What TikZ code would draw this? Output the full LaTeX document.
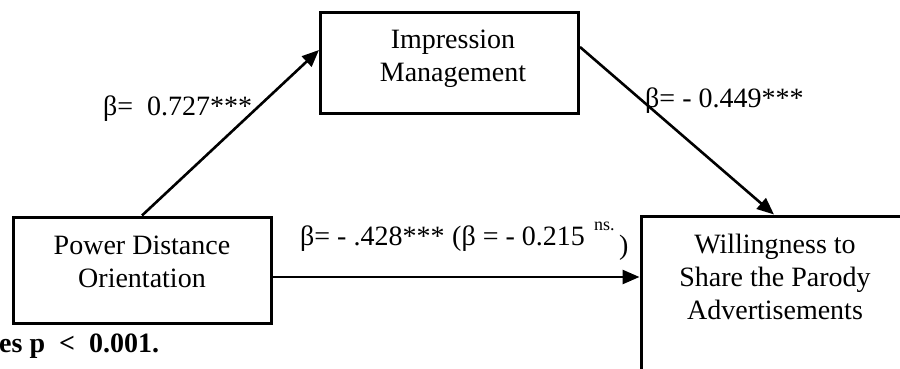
\documentclass[tikz,border=0pt]{standalone}
\usepackage{fontspec}
\setmainfont{Liberation Serif}
\usetikzlibrary{arrows.meta}
\begin{document}
\begin{tikzpicture}[x=1pt,y=-1pt,
  boxtxt/.style={font=\fontsize{28}{33}\selectfont, align=center, inner sep=0pt},
  box/.style={draw, line width=3pt, inner sep=0pt},
  conn/.style={line width=2.6pt, -{Triangle[length=17pt,width=14pt]}},
  lbl/.style={font=\fontsize{28}{32}\selectfont, inner sep=0pt}]
\useasboundingbox (0,0) rectangle (900,369);
\begin{scope}
\clip (0,0) rectangle (900,369);
% boxes
\node[box, minimum width=258pt, minimum height=100pt] (im) at (449.5,63) {};
\node[box, minimum width=258pt, minimum height=106pt] (pd) at (142,270) {};
\node[box, minimum width=266pt, minimum height=170pt] (w) at (774,301) {};
% box texts
\node[boxtxt] (imt) at (453,59) {Impression\\Management};
\node[boxtxt] (pdt) at (142,262) {Power Distance\\Orientation};
\node[boxtxt] (wt) at (775,277) {Willingness to\\Share the Parody\\Advertisements};
% connectors
\draw[conn] (pd.north) -- ([yshift=13pt]im.west);
\draw[conn] ([yshift=16pt]im.east) -- (w.north);
\draw[conn] ([yshift=-7pt]pd.east) -- ([yshift=-7pt]pd.east -| w.west);
% labels
\node[lbl, anchor=base west] (l1) at (103,115) {β=\ \ 0.727***};
\node[lbl, anchor=base west] (l2) at (645,107) {β= - 0.449***};
\node[lbl, anchor=base west] (l3a) at (300,245) {β= - .428***};
\node[lbl, anchor=base west] (l3b) at (452,245) {(β = - 0.215};
\node[font=\fontsize{18}{20}\selectfont, inner sep=0pt, anchor=base west] (ns) at (594,230) {ns.};
\node[lbl, anchor=base west] (rp) at (619,254) {)};
\node[font=\bfseries\fontsize{28}{32}\selectfont, inner sep=0pt, anchor=base west] (note) at (-1,352) {es p \ <\ \ 0.001.};
\end{scope}
\end{tikzpicture}
\end{document}
